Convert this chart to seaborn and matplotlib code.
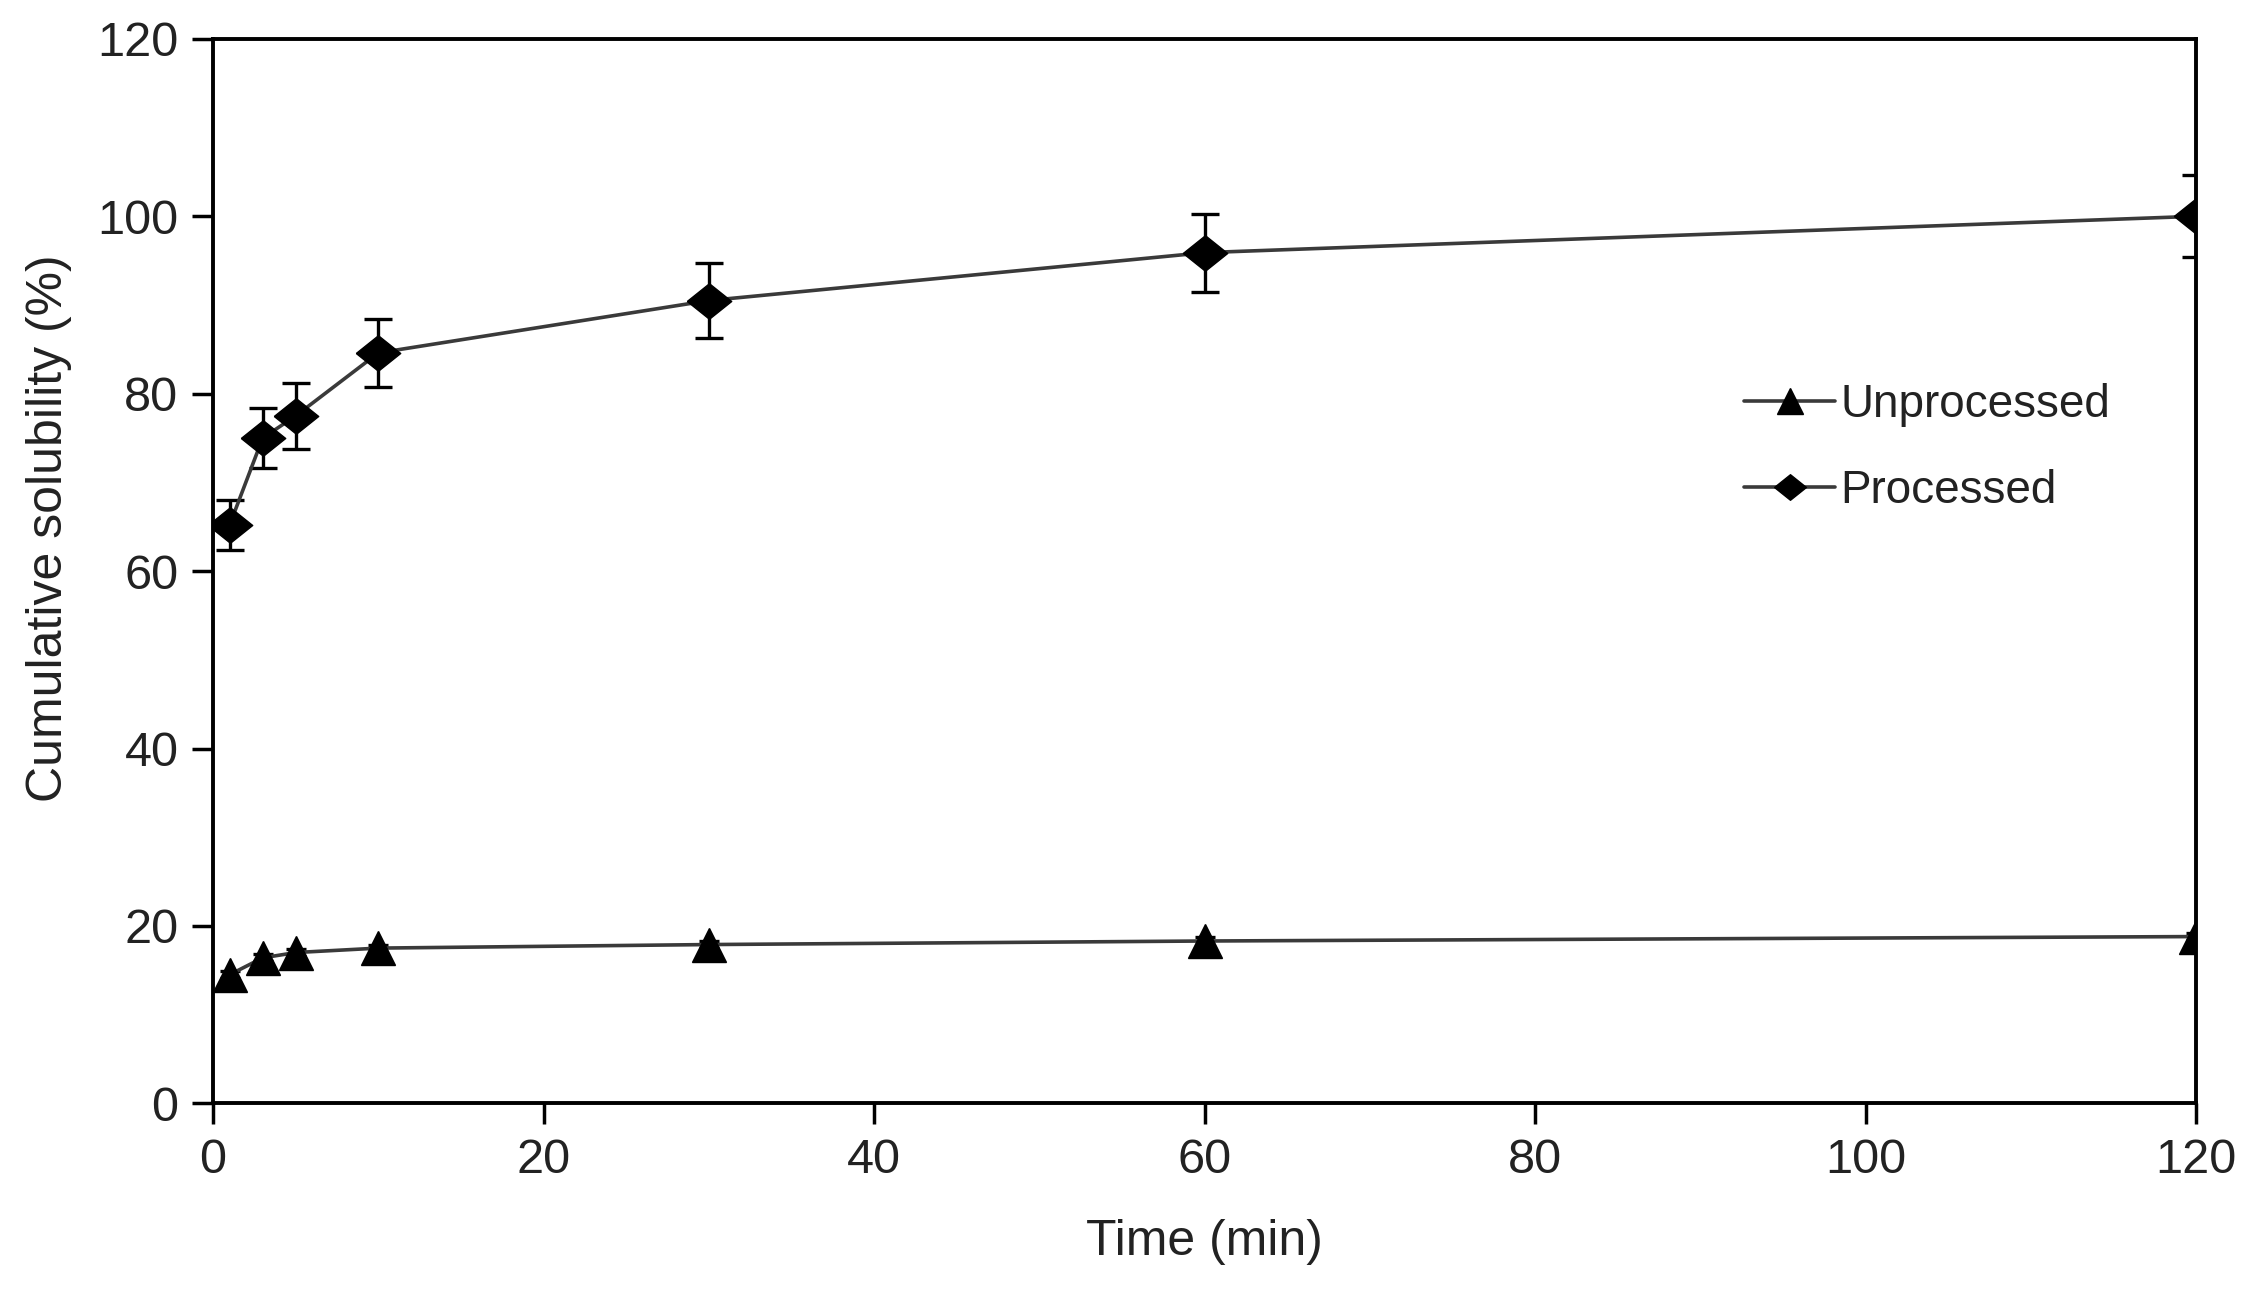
import numpy as np
import pandas as pd
import matplotlib
matplotlib.use("Agg")
import matplotlib.pyplot as plt
import seaborn as sns

# values
time_min = [1, 3, 5, 10, 30, 60, 120]
processed = [65.2, 75.0, 77.5, 84.6, 90.5, 95.9, 100.0]
processed_err = [2.8, 3.4, 3.7, 3.8, 4.2, 4.4, 4.6]
unprocessed = [14.5, 16.4, 17.0, 17.5, 17.9, 18.3, 18.8]
unprocessed_err = [0.4, 0.4, 0.4, 0.4, 0.4, 0.4, 0.4]

sns.set_style("ticks")
plt.rcParams['font.family'] = ['Liberation Sans', 'DejaVu Sans']

txt = "#222222"

# wide diamond, like the one in the reference
diamond = [(-1, 0), (0, 0.8), (1, 0), (0, -0.8), (-1, 0)]

fig = plt.figure(figsize=(22.55, 12.95), dpi=100)
ax = fig.add_axes([0.0945, 0.148, 0.8795, 0.822])

df = pd.DataFrame({
    "Time": time_min * 2,
    "Solubility": unprocessed + processed,
    "Sample": ["Unprocessed"] * len(time_min) + ["Processed"] * len(time_min),
})

# error bars first, then seaborn lines with markers on top
ax.errorbar(time_min, processed, yerr=processed_err, fmt="none",
            ecolor="black", elinewidth=2.4, capsize=10, capthick=2.4, zorder=2)
ax.errorbar(time_min, unprocessed, yerr=unprocessed_err, fmt="none",
            ecolor="black", elinewidth=2.4, capsize=7, capthick=2.4, zorder=2)

sns.lineplot(data=df, x="Time", y="Solubility", hue="Sample", style="Sample",
             markers={"Unprocessed": "^", "Processed": diamond},
             dashes=False, palette={"Unprocessed": "#3a3a3a", "Processed": "#3a3a3a"},
             markersize=32, markerfacecolor="black", markeredgecolor="black",
             markeredgewidth=1.0, linewidth=2.6, ax=ax, zorder=3)

for line in ax.get_lines():
    if line.get_marker() == "^":
        line.set_markersize(25)

ax.set_xlim(0, 120)
ax.set_ylim(0, 120)
ax.set_xticks(np.arange(0, 121, 20))
ax.set_yticks(np.arange(0, 121, 20))

ax.set_xlabel("Time (min)", fontsize=36, color=txt, labelpad=26)
ax.set_ylabel("Cumulative solubility (%)", fontsize=36, color=txt)
ax.yaxis.set_label_coords(-0.071, 0.54)

ax.tick_params(axis="both", direction="out", length=15, width=2.5,
               labelsize=35, pad=10, colors="black")
ax.tick_params(axis="both", labelcolor=txt)
for sp in ax.spines.values():
    sp.set_visible(True)
    sp.set_linewidth(2.8)
    sp.set_color("black")

handles, labels = ax.get_legend_handles_labels()
leg = ax.legend(handles, labels, loc="upper left", bbox_to_anchor=(0.751, 0.715),
                frameon=False, fontsize=33, handlelength=2.0, handletextpad=0.1,
                labelspacing=0.9, labelcolor=txt)
for h in leg.legend_handles:
    h.set_markersize(19 if h.get_marker() == "^" else 23)

fig.savefig("out.png", dpi=100, facecolor="white")
